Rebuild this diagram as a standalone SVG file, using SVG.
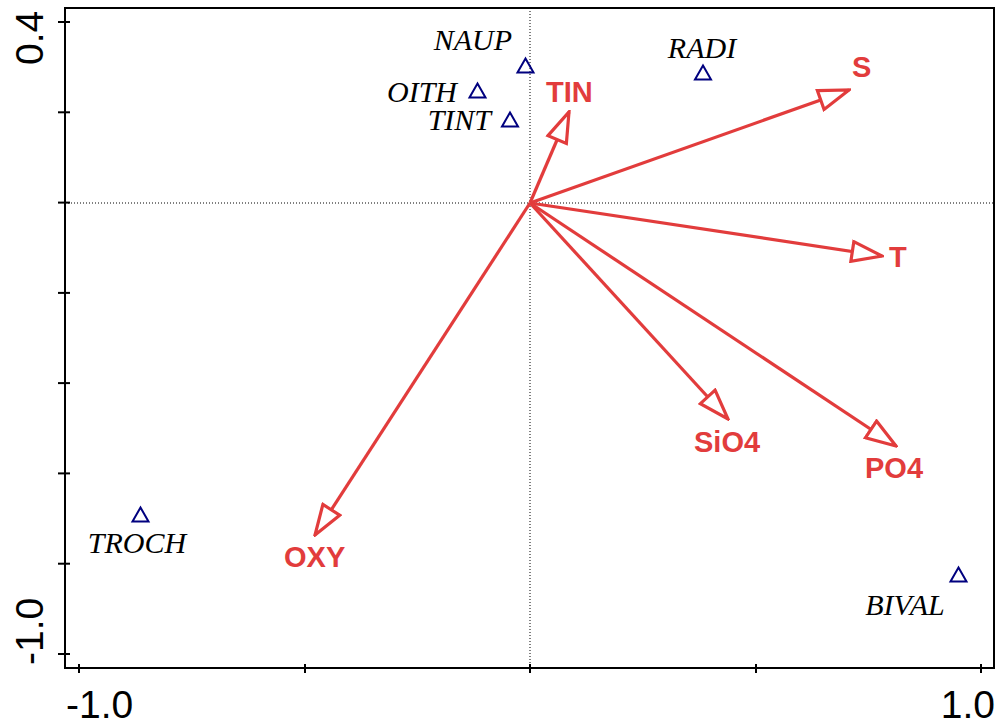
<svg xmlns="http://www.w3.org/2000/svg" width="1000" height="726" viewBox="0 0 1000 726">
<style>
.axis{fill:none;stroke:#000;stroke-width:2}
.tick{stroke:#000;stroke-width:2}
.dot{stroke:#000;stroke-width:1;stroke-dasharray:1 2;fill:none}
.tl{font-family:"Liberation Sans",Arial,sans-serif;font-size:39px;fill:#000}
.vec{stroke:#e23c3c;stroke-width:3.2;fill:none;marker-end:url(#ah)}
.vl{font-family:"Liberation Sans",Arial,sans-serif;font-size:29px;font-weight:bold;fill:#e23c3c}
.sp{fill:none;stroke:#00007f;stroke-width:2}
.sl{font-family:"Liberation Serif","Times New Roman",serif;font-style:italic;font-size:30px;fill:#000}
</style>
<defs>
<marker id="ah" markerUnits="userSpaceOnUse" viewBox="-2 -12 34 24" markerWidth="34" markerHeight="24" refX="30" refY="0" orient="auto">
<path d="M0,-10 L30,0 L0,10 Z" fill="#fff" stroke="#e23c3c" stroke-width="3.2" stroke-linejoin="miter"/>
</marker>
</defs>
<rect width="1000" height="726" fill="#fff"/>
<g id="axes">
<line class="dot" x1="530" y1="8" x2="530" y2="668"/>
<line class="dot" x1="65" y1="203" x2="994" y2="203"/>
<rect class="axis" x="65" y="8" width="929" height="660"/>
<g class="tick">
<line x1="58" y1="22" x2="70" y2="22"/>
<line x1="58" y1="112.3" x2="70" y2="112.3"/>
<line x1="58" y1="202.6" x2="70" y2="202.6"/>
<line x1="58" y1="292.9" x2="70" y2="292.9"/>
<line x1="58" y1="383.1" x2="70" y2="383.1"/>
<line x1="58" y1="473.4" x2="70" y2="473.4"/>
<line x1="58" y1="563.7" x2="70" y2="563.7"/>
<line x1="58" y1="654" x2="70" y2="654"/>
<line x1="79" y1="664" x2="79" y2="673"/>
<line x1="305" y1="664" x2="305" y2="673"/>
<line x1="530" y1="664" x2="530" y2="673"/>
<line x1="756" y1="664" x2="756" y2="673"/>
<line x1="981" y1="664" x2="981" y2="673"/>
</g>
<text class="tl" transform="translate(43,65) rotate(-90)">0.4</text>
<text class="tl" transform="translate(43,665) rotate(-90)">-1.0</text>
<text class="tl" x="66" y="718">-1.0</text>
<text class="tl" x="995" y="718" text-anchor="end">1.0</text>
</g>
<g id="connectors">
<line class="vec" x1="530" y1="203" x2="569" y2="112"/>
<line class="vec" x1="530" y1="203" x2="849" y2="90"/>
<line class="vec" x1="530" y1="203" x2="882" y2="256"/>
<line class="vec" x1="530" y1="203" x2="728" y2="419"/>
<line class="vec" x1="530" y1="203" x2="896" y2="446"/>
<line class="vec" x1="530" y1="203" x2="315" y2="535"/>
</g>
<g id="TIN"><text class="vl" x="546" y="102">TIN</text></g>
<g id="S"><text class="vl" x="852" y="77">S</text></g>
<g id="T"><text class="vl" x="889" y="267">T</text></g>
<g id="SiO4"><text class="vl" x="694" y="452">SiO4</text></g>
<g id="PO4"><text class="vl" x="865" y="478">PO4</text></g>
<g id="OXY"><text class="vl" x="284" y="567">OXY</text></g>
<g id="NAUP"><path class="sp" d="M525.5,58.5 L533.5,72.5 L517.5,72.5 Z"/><text class="sl" x="512" y="50" text-anchor="end">NAUP</text></g>
<g id="OITH"><path class="sp" d="M477.5,83.5 L485.5,97.5 L469.5,97.5 Z"/><text class="sl" x="457" y="102" text-anchor="end">OITH</text></g>
<g id="TINT"><path class="sp" d="M510,112.5 L518,126.5 L502,126.5 Z"/><text class="sl" x="491" y="130" text-anchor="end">TINT</text></g>
<g id="RADI"><path class="sp" d="M703,65.5 L711,79.5 L695,79.5 Z"/><text class="sl" x="702" y="58" text-anchor="middle">RADI</text></g>
<g id="TROCH"><path class="sp" d="M140.5,507.5 L148.5,521.5 L132.5,521.5 Z"/><text class="sl" x="137" y="553" text-anchor="middle">TROCH</text></g>
<g id="BIVAL"><path class="sp" d="M958.5,567.5 L966.5,581.5 L950.5,581.5 Z"/><text class="sl" x="905" y="615" text-anchor="middle">BIVAL</text></g>
</svg>
